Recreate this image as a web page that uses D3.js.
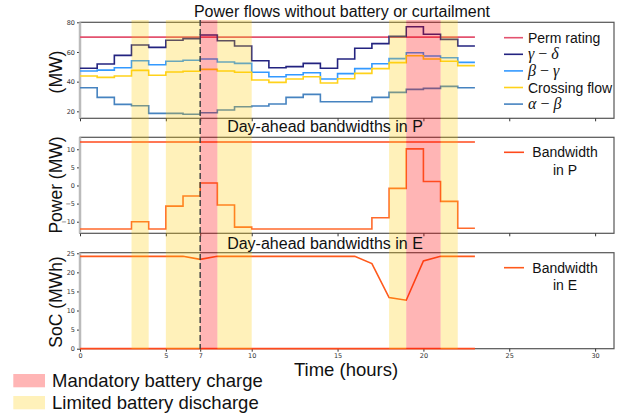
<!DOCTYPE html>
<html>
<head>
<meta charset="utf-8">
<script src="https://cdn.jsdelivr.net/npm/d3@7"></script>
<style>
  body { margin: 0; background: #fff; }
  svg { display: block; }
  .tick text { font-family: "DejaVu Sans", sans-serif; font-size: 6.5px; fill: #333; }
  .tick line { stroke: #333; }
  .domain { display: none; }
</style>
</head>
<body>
<svg id="chart" width="633" height="418"></svg>
<script>
// ---- datos ----
const hours = d3.range(0, 24);            // 0..23
const permRating = 70;
const gammaDelta = [49.0, 51.9, 57.7, 64.7, 63.1, 67.9, 69.0, 71.4, 67.6, 64.0, 54.1, 49.4, 50.1, 52.3, 49.0, 55.3, 62.5, 65.6, 70.5, 77.0, 71.9, 68.5, 64.0];
const betaGamma  = [47.2, 47.8, 49.4, 54.1, 51.4, 53.7, 54.4, 55.3, 53.2, 52.3, 46.3, 43.3, 44.7, 46.0, 41.8, 45.4, 48.8, 52.1, 55.5, 59.5, 57.3, 56.1, 53.0];
const crossing   = [43.8, 42.9, 43.8, 47.6, 44.3, 46.5, 47.0, 48.3, 47.2, 46.3, 41.1, 39.5, 41.8, 43.3, 39.1, 42.0, 45.6, 48.8, 52.8, 57.5, 55.3, 53.7, 50.8];
const alphaBeta  = [35.9, 29.4, 24.7, 23.8, 18.6, 18.6, 18.0, 19.0, 20.9, 23.1, 23.6, 24.9, 29.4, 31.4, 26.5, 26.5, 26.5, 29.4, 32.8, 34.8, 35.5, 36.8, 35.9];

const bwPUpper = 12;
const bwPLower = [-12, -12, -12, -10, -12, -5.7, -2.9, 0.7, -5.4, -11.5, -12, -12, -12, -12, -12, -12, -12, -8.9, -0.8, 10.1, 1.1, -4.4, -11.8];

const socUpper = [24.2, 24.2, 24.2, 24.2, 24.2, 24.2, 24.2, 23.4, 24.2, 24.2, 24.2, 24.2, 24.2, 24.2, 24.2, 24.2, 24.2, 22.3, 13.4, 12.7, 23.0, 24.2, 24.2, 24.2];
const socLower = 0;

const mandatoryCharge = [[7, 8], [19, 21]];
const limitedDischarge = [[3, 4], [5, 7], [8, 10], [18, 19], [21, 22]];
const xTicks = [0, 5, 7, 10, 15, 20, 25, 30];

const svg = d3.select("#chart");
const x = d3.scaleLinear().domain([0, 31.1]).range([80, 614]);

const panels = [
    { top: 22.3, bottom: 118.3, domain: [15.3, 80], ticks: [20, 40, 60, 80] },
    { top: 137.3, bottom: 233.3, domain: [-13.2, 13.3], ticks: [-10, -5, 0, 5, 10] },
    { top: 252.7, bottom: 348.7, domain: [0, 25.15], ticks: [0, 5, 10, 15, 20, 25] }
];
panels.forEach(p => {
    p.y = d3.scaleLinear().domain(p.domain).range([p.bottom, p.top]);
});

// serie escalonada: valor por hora, ultimo tramo termina en 23
function stepPoints(vals) {
    const pts = vals.map((v, i) => [i, v]);
    pts.push([vals.length, vals[vals.length - 1]]);
    return pts;
}
function constPoints(v) {
    return [[0, v], [23, v]];
}

const layerLines = svg.append("g");
const layerBands = svg.append("g");
const layerTop = svg.append("g");

// ---- marcos y ejes ----
panels.forEach((p, i) => {
    const g = layerLines.append("g");
    g.append("rect")
        .attr("x", x(0)).attr("y", p.top)
        .attr("width", x.range()[1] - x(0)).attr("height", p.bottom - p.top)
        .attr("fill", "none").attr("stroke", "#555").attr("stroke-width", 1.2);

    g.append("g")
        .attr("transform", "translate(" + x(0) + ",0)")
        .call(d3.axisLeft(p.y).tickValues(p.ticks).tickSize(3).tickPadding(2));

    g.append("g")
        .attr("transform", "translate(0," + p.bottom + ")")
        .call(d3.axisBottom(x).tickValues(xTicks).tickSize(3).tickPadding(2)
            .tickFormat(i === 2 ? d3.format("d") : ""));

    g.append("line")
        .attr("x1", x(0)).attr("x2", x(0))
        .attr("y1", p.top).attr("y2", p.bottom)
        .attr("stroke", "#bbb").attr("stroke-width", 2.5);
});

// ---- lineas ----
function drawLine(p, pts, color, curve, width) {
    const line = d3.line()
        .x(d => x(d[0]))
        .y(d => p.y(d[1]))
        .curve(curve);
    layerLines.append("path")
        .datum(pts)
        .attr("d", line)
        .attr("fill", "none")
        .attr("stroke", color)
        .attr("stroke-width", width || 1.6);
}

const p1 = panels[0], p2 = panels[1], p3 = panels[2];
const series1 = [
    { label: "Perm rating", pts: constPoints(permRating), color: "#e3526f" },
    { label: ["γ", "δ"], pts: stepPoints(gammaDelta), color: "#232380" },
    { label: ["β", "γ"], pts: stepPoints(betaGamma), color: "#3399ff" },
    { label: "Crossing flow", pts: stepPoints(crossing), color: "#ffd21a" },
    { label: ["α", "β"], pts: stepPoints(alphaBeta), color: "#4683c0" }
];
series1.forEach(s => drawLine(p1, s.pts, s.color, d3.curveStepAfter));

drawLine(p2, constPoints(bwPUpper), "#ff4a1c", d3.curveLinear);
drawLine(p2, stepPoints(bwPLower), "#ff6a2c", d3.curveStepAfter);

drawLine(p3, hours.map((h, i) => [h, socUpper[i]]), "#ff5a1c", d3.curveLinear);
drawLine(p3, constPoints(socLower), "#ff4a1c", d3.curveLinear, 1.8);

// ---- bandas ----
const bandTop = 20, bandBottom = 349;
layerBands.selectAll("rect.lim")
    .data(limitedDischarge)
    .enter().append("rect")
    .attr("x", d => x(d[0]))
    .attr("width", d => x(d[1]) - x(d[0]))
    .attr("y", bandTop).attr("height", bandBottom - bandTop)
    .attr("fill", "#ffcc00").attr("opacity", 0.27);

layerBands.selectAll("rect.mand")
    .data(mandatoryCharge)
    .enter().append("rect")
    .attr("x", d => x(d[0]))
    .attr("width", d => x(d[1]) - x(d[0]))
    .attr("y", bandTop).attr("height", bandBottom - bandTop)
    .attr("fill", "#ff0000").attr("opacity", 0.29);

layerTop.append("line")
    .attr("x1", x(7)).attr("x2", x(7))
    .attr("y1", bandTop).attr("y2", bandBottom)
    .attr("stroke", "#444").attr("stroke-width", 1.5)
    .attr("stroke-dasharray", "6,3");

// ---- titulos ----
const sans = "'Liberation Sans', Arial, sans-serif";
const titles = [
    { text: "Power flows without battery or curtailment", x: 342, y: 16.7 },
    { text: "Day-ahead bandwidths in P", x: 325, y: 132.3 },
    { text: "Day-ahead bandwidths in E", x: 325, y: 248.8 }
];
layerTop.selectAll("text.title")
    .data(titles)
    .enter().append("text")
    .attr("x", d => d.x).attr("y", d => d.y)
    .attr("text-anchor", "middle")
    .style("font-family", sans).style("font-size", "16px").style("fill", "#111")
    .text(d => d.text);

const ylabels = [
    { text: "(MW)", y: 72 },
    { text: "Power (MW)", y: 185 },
    { text: "SoC (MWh)", y: 302 }
];
layerTop.selectAll("text.ylab")
    .data(ylabels)
    .enter().append("text")
    .attr("transform", d => "translate(62," + d.y + ") rotate(-90)")
    .attr("text-anchor", "middle")
    .style("font-family", sans).style("font-size", "17.5px").style("fill", "#111")
    .text(d => d.text);

layerTop.append("text")
    .attr("x", 346).attr("y", 376)
    .attr("text-anchor", "middle")
    .style("font-family", sans).style("font-size", "18.5px").style("fill", "#111")
    .text("Time (hours)");

// ---- leyendas ----
series1.forEach((s, i) => {
    const yy = 37.7 + i * 16.6;
    layerTop.append("line")
        .attr("x1", 504).attr("x2", 523).attr("y1", yy).attr("y2", yy)
        .attr("stroke", s.color).attr("stroke-width", 1.6);
    const t = layerTop.append("text")
        .attr("x", 528).attr("y", yy + 5)
        .style("font-family", sans).style("font-size", "14px").style("fill", "#111");
    if (typeof s.label === "string") {
        t.text(s.label);
    } else {
        t.style("font-family", "'Liberation Serif', serif").style("font-size", "16px");
        t.append("tspan").style("font-style", "italic").text(s.label[0]);
        t.append("tspan").text(" − ");
        t.append("tspan").style("font-style", "italic").text(s.label[1]);
    }
});

[{ y: 152.3, l2: "in P", color: "#ff4a1c" }, { y: 267.7, l2: "in E", color: "#ff5a1c" }].forEach(d => {
    layerTop.append("line")
        .attr("x1", 504).attr("x2", 524).attr("y1", d.y).attr("y2", d.y)
        .attr("stroke", d.color).attr("stroke-width", 1.6);
    layerTop.append("text")
        .attr("x", 565).attr("y", d.y + 5)
        .attr("text-anchor", "middle")
        .style("font-family", sans).style("font-size", "14px").style("fill", "#111")
        .text("Bandwidth");
    layerTop.append("text")
        .attr("x", 565).attr("y", d.y + 22.5)
        .attr("text-anchor", "middle")
        .style("font-family", sans).style("font-size", "14px").style("fill", "#111")
        .text(d.l2);
});

const bottomLegend = [
    { label: "Mandatory battery charge", fill: "#ff0000", op: 0.29, y: 374 },
    { label: "Limited battery discharge", fill: "#ffcc00", op: 0.27, y: 396 }
];
bottomLegend.forEach(d => {
    layerTop.append("rect")
        .attr("x", 13.3).attr("y", d.y).attr("width", 31.7).attr("height", 13.3)
        .attr("fill", d.fill).attr("opacity", d.op);
    layerTop.append("text")
        .attr("x", 52).attr("y", d.y + 13.3)
        .style("font-family", sans).style("font-size", "18.5px").style("fill", "#111")
        .text(d.label);
});
</script>
</body>
</html>
